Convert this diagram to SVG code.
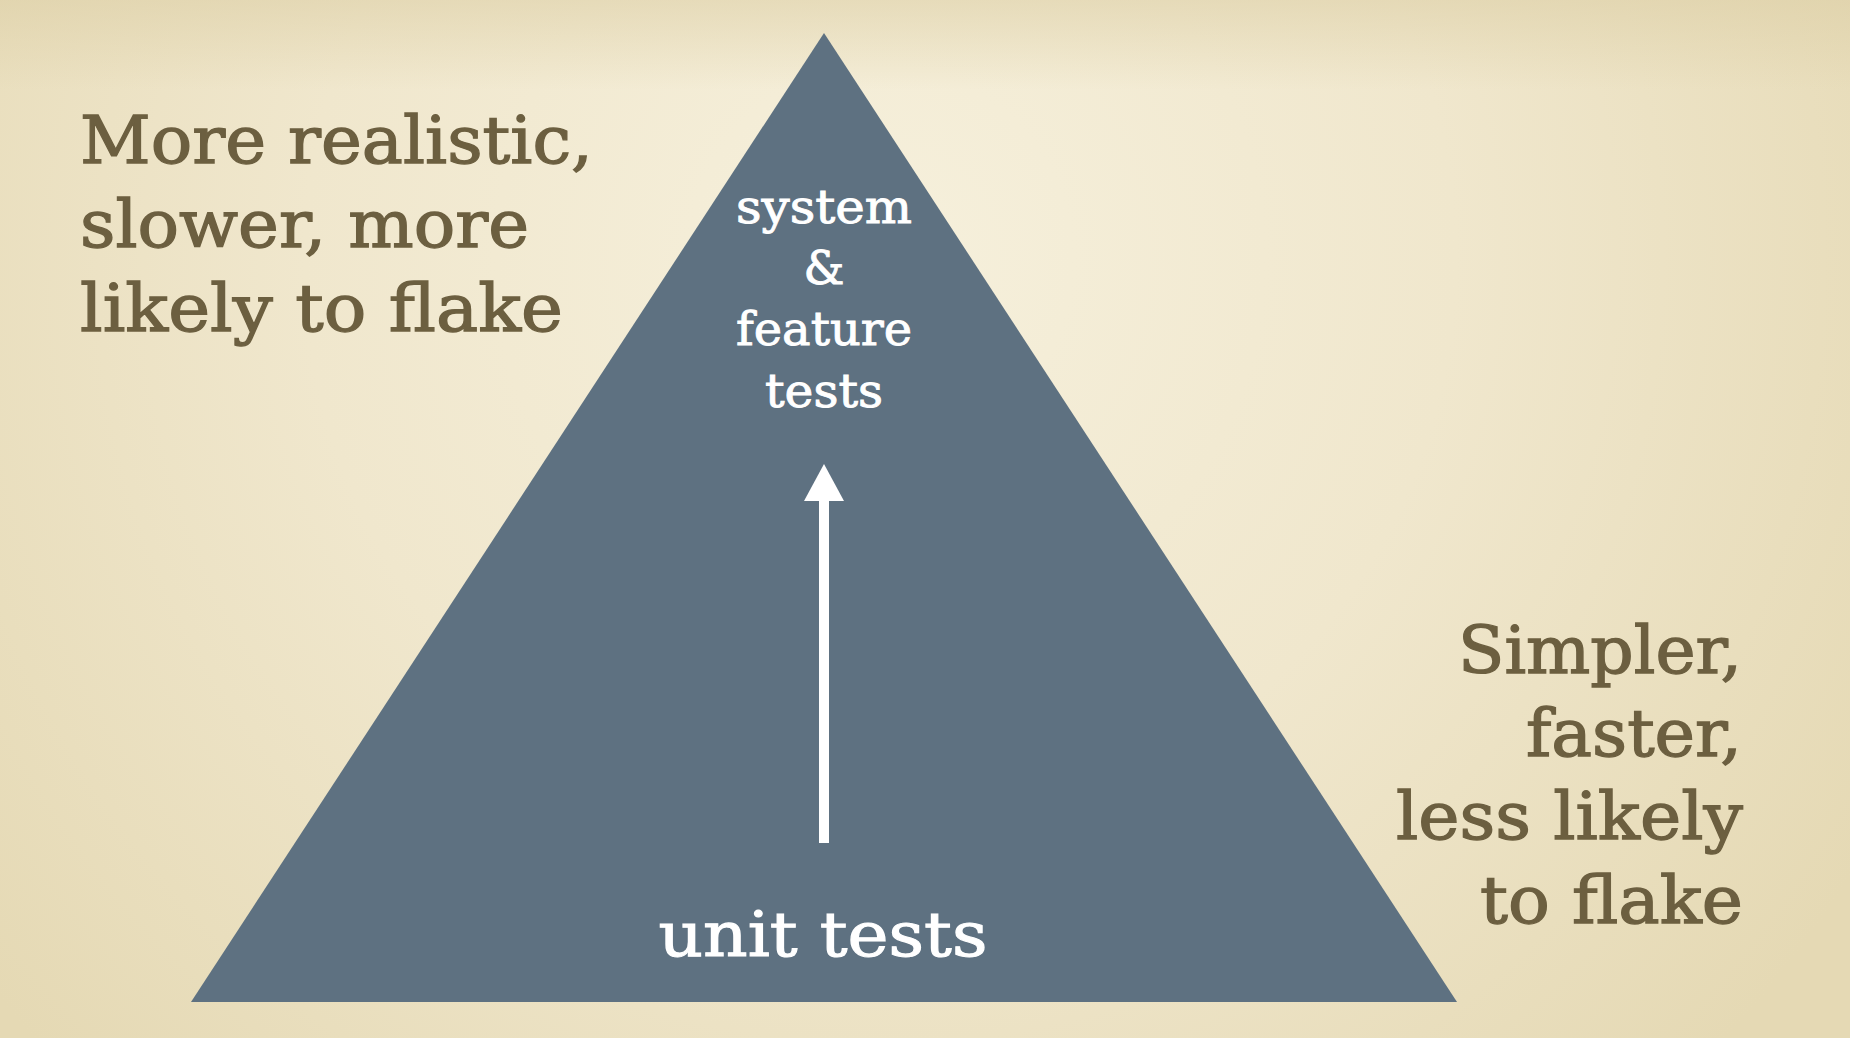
<svg xmlns="http://www.w3.org/2000/svg" width="1850" height="1038" viewBox="0 0 1850 1038">
<defs>
<radialGradient id="bg" cx="880" cy="260" r="1150" gradientUnits="userSpaceOnUse">
<stop offset="0" stop-color="#f6f0dc"/>
<stop offset="0.5" stop-color="#f0e7cd"/>
<stop offset="1" stop-color="#e5d9b4"/>
</radialGradient>
<linearGradient id="topshade" x1="0" y1="0" x2="0" y2="1">
<stop offset="0" stop-color="#dccea4" stop-opacity="0.55"/>
<stop offset="1" stop-color="#dccea4" stop-opacity="0"/>
</linearGradient>
<marker id="ah" viewBox="0 0 37 40" markerWidth="37" markerHeight="40" refX="0" refY="20" orient="auto" markerUnits="userSpaceOnUse">
<path d="M0 0 L37 20 L0 40 Z" fill="#ffffff"/>
</marker>
<style>
.side{font-family:"DejaVu Serif","Liberation Serif",serif;font-size:65px;fill:#6c5f40;stroke:#6c5f40;stroke-width:1.3px}
.top{font-family:"DejaVu Serif","Liberation Serif",serif;font-size:46px;fill:#ffffff;stroke:#ffffff;stroke-width:0.9px;text-anchor:middle}
.unit{font-family:"DejaVu Serif","Liberation Serif",serif;font-size:62px;fill:#ffffff;stroke:#ffffff;stroke-width:1.1px;text-anchor:middle}
</style>
</defs>
<rect width="1850" height="1038" fill="url(#bg)"/>
<rect width="1850" height="90" fill="url(#topshade)"/>
<g id="pyramid">
<polygon points="824,33 1457,1002 191,1002" fill="#5e7181"/>
</g>
<g id="top-label">
<text class="top" x="824" y="223" textLength="176" lengthAdjust="spacingAndGlyphs">system</text>
<text class="top" x="824" y="284">&amp;</text>
<text class="top" x="824" y="345" textLength="176" lengthAdjust="spacingAndGlyphs">feature</text>
<text class="top" x="824" y="407" textLength="118" lengthAdjust="spacingAndGlyphs">tests</text>
</g>
<g id="bottom-label">
<text class="unit" x="823" y="956" textLength="329" lengthAdjust="spacingAndGlyphs">unit tests</text>
</g>
<g id="left-note">
<text class="side" x="80" y="163" textLength="513" lengthAdjust="spacingAndGlyphs">More realistic,</text>
<text class="side" x="80" y="247" textLength="449" lengthAdjust="spacingAndGlyphs">slower, more</text>
<text class="side" x="80" y="331" textLength="483" lengthAdjust="spacingAndGlyphs">likely to flake</text>
</g>
<g id="right-note" text-anchor="end">
<text class="side" x="1742" y="673" textLength="284" lengthAdjust="spacingAndGlyphs">Simpler,</text>
<text class="side" x="1742" y="756" textLength="216" lengthAdjust="spacingAndGlyphs">faster,</text>
<text class="side" x="1743" y="839" textLength="347" lengthAdjust="spacingAndGlyphs">less likely</text>
<text class="side" x="1743" y="923" textLength="263" lengthAdjust="spacingAndGlyphs">to flake</text>
</g>
<g id="connectors">
<line x1="824" y1="843" x2="824" y2="501" stroke="#ffffff" stroke-width="10" marker-end="url(#ah)"/>
</g>
</svg>
